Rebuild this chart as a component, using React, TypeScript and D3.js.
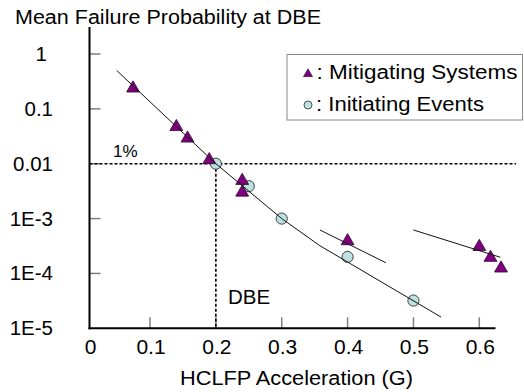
import React from "react";
import * as d3 from "d3";

const xTicks = [0, 0.1, 0.2, 0.3, 0.4, 0.5, 0.6];
const xTickLabels = ["0", "0.1", "0.2", "0.3", "0.4", "0.5", "0.6"];
const yTicks = [1e-5, 1e-4, 1e-3, 1e-2, 1e-1, 1];
const yTickLabels = ["1E-5", "1E-4", "1E-3", "0.01", "0.1", "1"];

const mitigX = [0.072, 0.14, 0.157, 0.19, 0.24, 0.24, 0.4, 0.6, 0.617, 0.633];
const mitigY = [0.237, 0.047, 0.029, 0.0117, 0.0049, 0.003, 3.9e-4, 3.07e-4, 1.94e-4, 1.24e-4];
const initX = [0.2, 0.25, 0.3, 0.4, 0.5];
const initY = [0.01, 0.0039, 0.001, 2.0e-4, 3.2e-5];

const fitMainX = [0.045, 0.2, 0.3, 0.358, 0.542];
const fitMainY = [0.5, 0.01, 0.001, 3.2e-4, 1.6e-5];
const fitMidX = [0.358, 0.458];
const fitMidY = [6.2e-4, 1.57e-4];
const fitRightX = [0.5, 0.632];
const fitRightY = [6.2e-4, 1.97e-4];

const threshold = 0.01;
const dbe = 0.2;

const FONT = "'Liberation Sans', Arial, sans-serif";

export default function App() {
  const x = d3.scaleLinear().domain([0, 0.1, 0.6]).range([89.5, 150, 479.3]);
  const y = d3.scaleLog().domain([1e-5, 1]).range([328.3, 54]);
  const yTop = y.invert(27);
  const xEnd = x.invert(495.5);

  const line = d3
    .line<[number, number]>()
    .x((d) => x(d[0]))
    .y((d) => y(d[1]));
  const pts = (xs: number[], ys: number[]) => xs.map((v, i) => [v, ys[i]] as [number, number]);

  const tri = d3.symbol().type(d3.symbolTriangle).size(72)();
  const triLegend = d3.symbol().type(d3.symbolTriangle).size(34)();

  return (
    <svg
      width={524}
      height={392}
      style={{ position: "absolute", left: 0, top: 0, background: "#fff" }}
      fontFamily={FONT}
    >
      <rect width={524} height={392} fill="#fff" />
      {/* title */}
      <text x={15} y={24} fontSize={20} textLength={306} lengthAdjust="spacingAndGlyphs">
        Mean Failure Probability at DBE
      </text>

      {/* y ticks */}
      {yTicks.map((t, i) => (
        <g key={"yt" + i}>
          {i > 0 && (
            <line x1={x(0)} x2={x(0) + 11} y1={y(t)} y2={y(t)} stroke="#808080" strokeWidth={1.5} />
          )}
          <text x={t === 1 ? 47 : 53} y={y(t) + 7} fontSize={20.5} textAnchor="end">
            {yTickLabels[i]}
          </text>
        </g>
      ))}

      {/* x ticks */}
      {xTicks.map((t, i) => (
        <g key={"xt" + i}>
          {i > 0 && (
            <line x1={x(t)} x2={x(t)} y1={y(1e-5)} y2={y(1e-5) - 11} stroke="#808080" strokeWidth={1.5} />
          )}
          <text x={x(t) + 1} y={354} fontSize={21} textAnchor="middle">
            {xTickLabels[i]}
          </text>
        </g>
      ))}

      {/* dotted reference lines */}
      <line
        x1={x(0)}
        x2={516}
        y1={y(threshold)}
        y2={y(threshold)}
        stroke="#000"
        strokeWidth={1.6}
        strokeDasharray="3,2"
      />
      <line
        x1={x(dbe)}
        x2={x(dbe)}
        y1={y(threshold)}
        y2={y(1e-5)}
        stroke="#000"
        strokeWidth={1.6}
        strokeDasharray="3,2"
      />

      {/* axes */}
      <line x1={x(0)} x2={x(0)} y1={y(yTop)} y2={y(1e-5) + 1} stroke="#000" strokeWidth={2} />
      <line x1={x(0) - 1} x2={x(xEnd)} y1={y(1e-5)} y2={y(1e-5)} stroke="#000" strokeWidth={2} />

      {/* initiating events (circles) */}
      {initX.map((v, i) => (
        <circle
          key={"c" + i}
          cx={x(v)}
          cy={y(initY[i])}
          r={5.6}
          fill="#bde0e0"
          stroke="#303030"
          strokeWidth={0.9}
        />
      ))}

      {/* mitigating systems (triangles) */}
      {mitigX.map((v, i) => (
        <path
          key={"t" + i}
          d={tri || ""}
          transform={`translate(${x(v)},${y(mitigY[i])})`}
          fill="#800080"
          stroke="#2a0a2a"
          strokeWidth={0.8}
        />
      ))}

      {/* fit lines */}
      <path d={line(pts(fitMainX, fitMainY)) || ""} fill="none" stroke="#111" strokeWidth={1} />
      <path d={line(pts(fitMidX, fitMidY)) || ""} fill="none" stroke="#111" strokeWidth={1} />
      <path d={line(pts(fitRightX, fitRightY)) || ""} fill="none" stroke="#111" strokeWidth={1} />

      {/* annotations */}
      <text x={113} y={157} fontSize={17}>
        1%
      </text>
      <text x={228} y={304} fontSize={20.5}>
        DBE
      </text>

      {/* x axis label */}
      <text x={180} y={385} fontSize={20} textLength={233} lengthAdjust="spacingAndGlyphs">
        HCLFP Acceleration (G)
      </text>

      {/* legend */}
      <rect x={287} y={54.5} width={235.5} height={65.5} fill="#fff" stroke="#888" strokeWidth={1} />
      <path
        d={triLegend || ""}
        transform="translate(308,74)"
        fill="#800080"
        stroke="#2a0a2a"
        strokeWidth={0.7}
      />
      <text x={316.5} y={79} fontSize={20} textLength={201} lengthAdjust="spacingAndGlyphs">
        : Mitigating Systems
      </text>
      <circle cx={308} cy={105} r={4} fill="#bde0e0" stroke="#303030" strokeWidth={0.8} />
      <text x={316} y={111} fontSize={20} textLength={168} lengthAdjust="spacingAndGlyphs">
        : Initiating Events
      </text>
    </svg>
  );
}
